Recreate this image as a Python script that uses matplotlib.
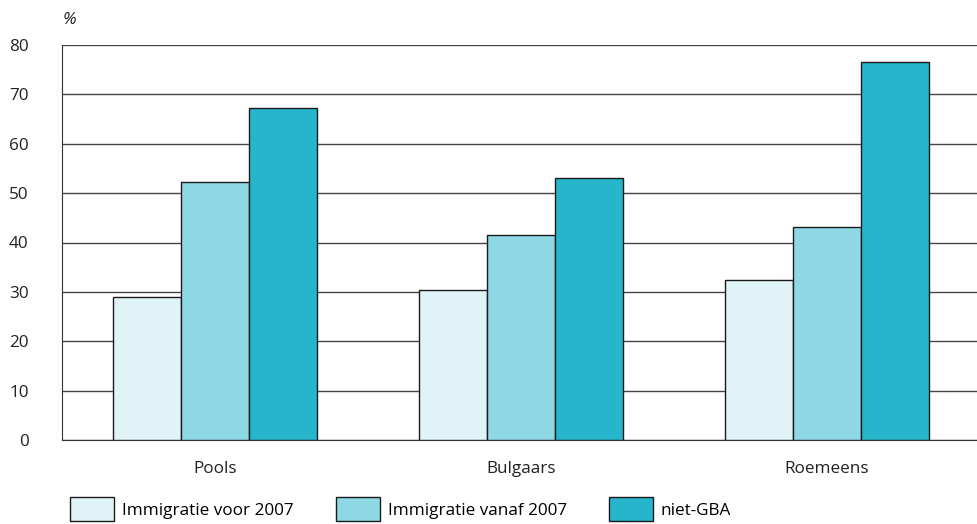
import matplotlib
matplotlib.use("Agg")
import matplotlib.pyplot as plt
import numpy as np
from matplotlib.patches import Patch

plt.rcParams['font.family'] = ['Open Sans', 'DejaVu Sans']

# data
categories = ["Pools", "Bulgaars", "Roemeens"]
series_names = ["Immigratie voor 2007", "Immigratie vanaf 2007", "niet-GBA"]
voor_2007 = [29.0, 30.4, 32.4]
vanaf_2007 = [52.3, 41.5, 43.1]
niet_gba = [67.3, 53.0, 76.5]
y_ticks = [0, 10, 20, 30, 40, 50, 60, 70, 80]

colors = ["#E0F4F7", "#8ED8E5", "#26B5CB"]
edge = "#1a1a1a"
fs = 12.3

fig = plt.figure(figsize=(9.78, 5.24), dpi=100)
ax = fig.add_axes([62 / 978, 1 - 440 / 524, (980 - 62) / 978, (440 - 45) / 524])

x = np.arange(len(categories))
w = 0.222
for i, vals in enumerate([voor_2007, vanaf_2007, niet_gba]):
    ax.bar(x + (i - 1) * w, vals, width=w, color=colors[i], edgecolor=edge,
           linewidth=1.0, zorder=3)

ax.set_xlim(-0.5, 2.5)
ax.set_ylim(0, 80)
ax.set_yticks(y_ticks)
ax.set_xticks(x)
ax.set_xticklabels(categories)
ax.tick_params(axis='both', length=0, labelsize=fs, colors="#222222")
ax.tick_params(axis='y', pad=24)
ax.tick_params(axis='x', pad=15)

ax.yaxis.grid(True, color="#444444", linewidth=1.0, zorder=0)
ax.set_axisbelow(True)
for s in ["top", "right"]:
    ax.spines[s].set_visible(False)
ax.spines["left"].set_color("#333333")
ax.spines["bottom"].set_color("#333333")

fig.text(63 / 978, 1 - 20 / 524, "%", fontsize=fs, style='italic',
         va='center', ha='left', color="#222222")

handles = [Patch(facecolor=c, edgecolor=edge, linewidth=1.0) for c in colors]
fig.legend(handles, series_names, loc='center left', ncol=3,
           bbox_to_anchor=(70 / 978, 1 - 509 / 524), frameon=False,
           fontsize=fs, handlelength=2.6, handleheight=1.75,
           handletextpad=0.45, columnspacing=2.45, borderpad=0,
           borderaxespad=0)

fig.savefig("out.png", dpi=100)
